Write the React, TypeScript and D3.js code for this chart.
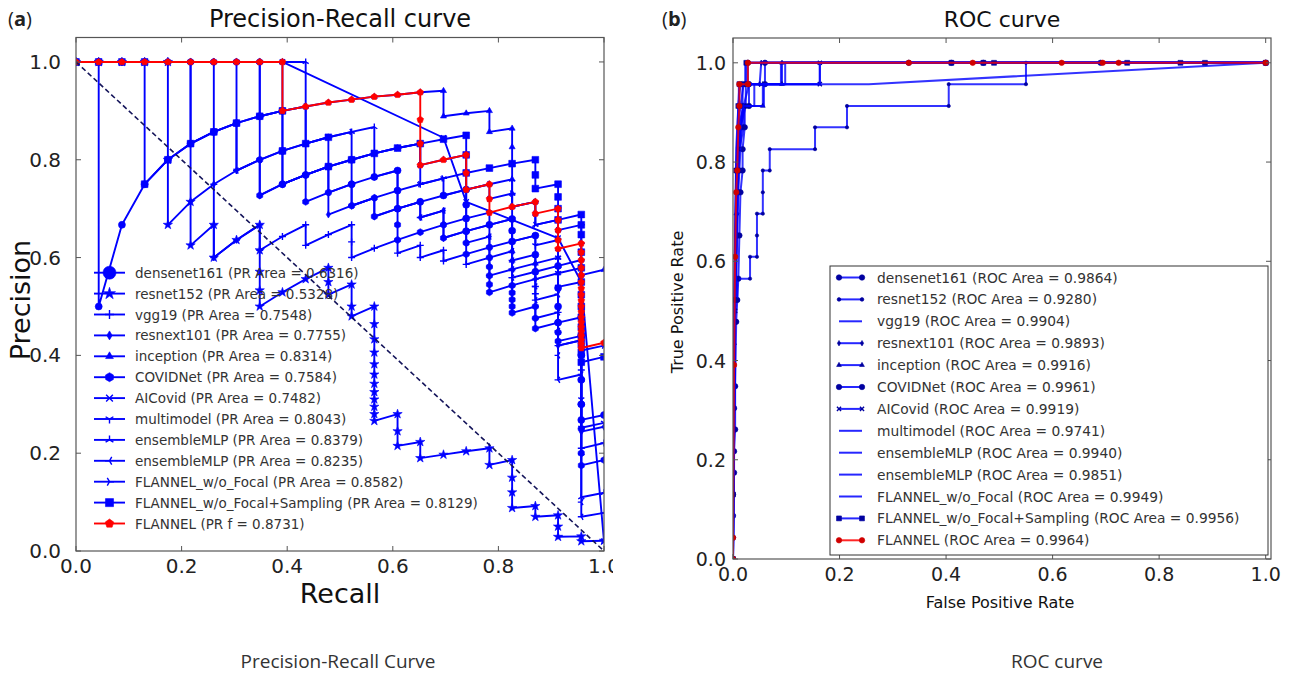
import React from 'react';
import * as d3 from 'd3';

type Pt = [number, number];

// ---- shared series names ----
const modelNames = ['densenet161', 'resnet152', 'vgg19', 'resnext101', 'inception', 'COVIDNet', 'AICovid',
  'multimodel', 'ensembleMLP', 'ensembleMLP', 'FLANNEL_w/o_Focal', 'FLANNEL_w/o_Focal+Sampling', 'FLANNEL'];
const prAreaText = ['(PR Area = 0.6316)', '(PR Area = 0.5328)', '(PR Area = 0.7548)', '(PR Area = 0.7755)',
  '(PR Area = 0.8314)', '(PR Area = 0.7584)', '(PR Area = 0.7482)', '(PR Area = 0.8043)', '(PR Area = 0.8379)',
  '(PR Area = 0.8235)', '(PR Area = 0.8582)', '(PR Area = 0.8129)', '(PR f = 0.8731)'];
const rocAreas = ['0.9864', '0.9280', '0.9904', '0.9893', '0.9916', '0.9961', '0.9919', '0.9741', '0.9940',
  '0.9851', '0.9949', '0.9956', '0.9964'];
const prMarkers = ['o', '*', '+', 'd', '^', 'h', 'x', '1', '2', '3', '4', 's', 'p'];
const rocMarkers = ['o', '.', '', 'd', '^', 'o', 'x', '', '', '', '', 's', 'o'];
const ticks = [0, 0.2, 0.4, 0.6, 0.8, 1.0];

// ---- precision-recall curves (recall, precision) ----
const prDensenet: Pt[] = [[0,1],[.043,1],[.043,.5],[.087,.667],[.13,.75],[.174,.8],[.217,.833],[.261,.857],[.304,.875],[.348,.889],[.391,.9],[.391,.818],[.391,.75],[.435,.769],[.478,.786],[.522,.8],[.522,.75],[.565,.765],[.609,.778],[.609,.737],[.609,.7],[.652,.714],[.696,.727],[.739,.739],[.739,.708],[.739,.68],[.739,.654],[.783,.667],[.826,.679],[.826,.655],[.826,.633],[.87,.645],[.87,.606],[.87,.571],[.913,.583],[.913,.538],[.913,.5],[.913,.467],[.957,.478],[.957,.44],[.957,.4],[.957,.35],[.957,.3],[.957,.268],[1,.278]];
const prResnet152: Pt[] = [[0,1],[.043,1],[.087,1],[.13,1],[.174,1],[.174,.8],[.174,.667],[.217,.714],[.217,.625],[.261,.667],[.261,.6],[.304,.636],[.348,.667],[.348,.615],[.348,.571],[.348,.533],[.348,.5],[.391,.529],[.435,.556],[.478,.579],[.478,.55],[.478,.524],[.522,.545],[.522,.5],[.522,.48],[.565,.5],[.565,.464],[.565,.433],[.565,.406],[.565,.382],[.565,.361],[.565,.342],[.565,.325],[.565,.31],[.565,.295],[.565,.28],[.565,.266],[.609,.28],[.609,.245],[.609,.215],[.652,.223],[.652,.19],[.696,.197],[.739,.204],[.783,.21],[.783,.176],[.826,.186],[.826,.15],[.826,.12],[.826,.088],[.87,.092],[.87,.07],[.913,.073],[.913,.05],[.913,.029],[.957,.03],[.957,.02],[1,.021]];
const prVgg19: Pt[] = [[0,1],[.043,1],[.087,1],[.13,1],[.174,1],[.217,1],[.261,1],[.261,.857],[.261,.75],[.261,.667],[.261,.6],[.304,.636],[.348,.667],[.348,.615],[.391,.643],[.435,.667],[.435,.625],[.478,.647],[.522,.667],[.522,.632],[.522,.6],[.565,.619],[.609,.636],[.609,.609],[.652,.625],[.652,.6],[.696,.615],[.696,.593],[.739,.607],[.739,.586],[.783,.6],[.783,.581],[.783,.563],[.826,.576],[.826,.559],[.826,.543],[.87,.556],[.87,.541],[.87,.526],[.87,.5],[.87,.476],[.913,.488],[.913,.467],[.913,.447],[.913,.42],[.957,.431],[.957,.37],[.957,.3],[.957,.25],[.957,.21],[1,.221]];
const prResnext: Pt[] = [[0,1],[.043,1],[.087,1],[.13,1],[.174,1],[.217,1],[.217,.833],[.217,.714],[.261,.75],[.304,.778],[.348,.8],[.348,.727],[.391,.75],[.435,.769],[.478,.786],[.478,.733],[.478,.688],[.522,.706],[.565,.722],[.565,.684],[.609,.7],[.652,.714],[.652,.682],[.696,.696],[.696,.667],[.696,.64],[.739,.654],[.783,.667],[.783,.643],[.783,.621],[.826,.633],[.826,.613],[.826,.594],[.87,.606],[.87,.588],[.87,.571],[.87,.556],[.913,.568],[.913,.5],[.913,.45],[.913,.42],[.957,.431],[.957,.35],[.957,.3],[.957,.244],[1,.254]];
const prInception: Pt[] = [[0,1],[.043,1],[.087,1],[.13,1],[.174,1],[.217,1],[.261,1],[.304,1],[.348,1],[.391,1],[.391,.9],[.435,.909],[.478,.917],[.522,.923],[.565,.929],[.609,.933],[.652,.938],[.696,.941],[.696,.889],[.739,.895],[.783,.9],[.783,.857],[.826,.864],[.826,.826],[.826,.792],[.826,.76],[.826,.731],[.826,.704],[.826,.679],[.826,.655],[.826,.633],[.826,.613],[.826,.594],[.826,.576],[.87,.588],[.913,.6],[.913,.583],[.913,.568],[.957,.579],[.957,.564],[1,.575]];
const prCovidNet: Pt[] = [[0,1],[.043,1],[.087,1],[.13,1],[.174,1],[.217,1],[.261,1],[.304,1],[.348,1],[.348,.889],[.348,.8],[.348,.727],[.391,.75],[.435,.769],[.435,.714],[.478,.733],[.522,.75],[.522,.706],[.565,.722],[.565,.684],[.609,.7],[.609,.667],[.609,.636],[.652,.652],[.696,.667],[.696,.64],[.739,.654],[.739,.63],[.739,.607],[.783,.621],[.783,.6],[.783,.581],[.783,.563],[.783,.545],[.783,.529],[.826,.543],[.826,.528],[.826,.514],[.826,.5],[.826,.487],[.87,.5],[.87,.476],[.87,.455],[.913,.467],[.913,.447],[.913,.429],[.957,.44],[.957,.4],[.957,.35],[.957,.3],[.957,.25],[.957,.2],[.957,.175],[1,.186]];
const prAICovid: Pt[] = [[0,1],[.391,1],[.696,.845],[.739,.714],[.913,.64],[.957,.55],[1,.02]];
const prMultimodel: Pt[] = [[0,1],[.043,1],[.087,1],[.13,1],[.174,1],[.217,1],[.261,1],[.304,1],[.304,.875],[.304,.778],[.348,.8],[.391,.818],[.435,.833],[.435,.769],[.478,.786],[.522,.8],[.565,.813],[.565,.765],[.609,.778],[.609,.737],[.652,.75],[.696,.762],[.696,.727],[.739,.739],[.739,.708],[.739,.68],[.783,.692],[.783,.667],[.826,.679],[.826,.655],[.826,.633],[.87,.645],[.87,.625],[.913,.636],[.913,.6],[.913,.568],[.913,.54],[.957,.55],[.957,.5],[.957,.44],[.957,.38],[.957,.31],[.957,.252],[1,.262]];
const prEnsemble1: Pt[] = [[0,1],[.043,1],[.087,1],[.13,1],[.174,1],[.217,1],[.261,1],[.304,1],[.348,1],[.391,1],[.435,1],[.435,.909],[.435,.833],[.478,.846],[.522,.857],[.565,.867],[.565,.813],[.609,.824],[.652,.833],[.652,.789],[.696,.8],[.739,.81],[.739,.773],[.739,.739],[.783,.75],[.826,.76],[.826,.731],[.826,.704],[.87,.714],[.87,.69],[.87,.667],[.913,.677],[.913,.656],[.913,.636],[.913,.618],[.913,.6],[.913,.583],[.957,.595],[.957,.5],[.957,.4],[.957,.3],[.957,.2],[.957,.11],[1,.119]];
const prEnsemble2: Pt[] = [[0,1],[.043,1],[.087,1],[.13,1],[.174,1],[.217,1],[.217,.833],[.261,.857],[.304,.875],[.304,.778],[.348,.8],[.391,.818],[.391,.75],[.435,.769],[.478,.786],[.478,.733],[.522,.75],[.522,.706],[.565,.722],[.609,.737],[.609,.7],[.652,.714],[.652,.682],[.696,.696],[.696,.667],[.739,.68],[.739,.654],[.739,.63],[.783,.643],[.783,.621],[.783,.6],[.826,.613],[.826,.594],[.826,.576],[.826,.559],[.87,.571],[.87,.541],[.87,.513],[.913,.525],[.913,.488],[.913,.45],[.913,.4],[.913,.35],[.957,.361],[.957,.2],[.957,.1],[.957,.07],[1,.078]];
const prNoFocal: Pt[] = [[0,1],[.043,1],[.087,1],[.13,1],[.174,1],[.217,1],[.261,1],[.304,1],[.348,1],[.348,.889],[.391,.9],[.435,.909],[.435,.833],[.478,.846],[.522,.857],[.522,.8],[.565,.813],[.609,.824],[.652,.833],[.652,.789],[.652,.75],[.696,.762],[.739,.773],[.739,.739],[.783,.75],[.783,.72],[.826,.731],[.826,.704],[.87,.714],[.87,.69],[.87,.667],[.913,.677],[.913,.656],[.957,.667],[.957,.629],[.957,.595],[.957,.564],[.957,.5],[.957,.45],[.957,.41],[1,.42]];
const prSampling: Pt[] = [[0,1],[.043,1],[.087,1],[.13,1],[.13,.75],[.174,.8],[.217,.833],[.261,.857],[.304,.875],[.348,.889],[.391,.9],[.391,.818],[.435,.833],[.478,.846],[.478,.786],[.522,.8],[.565,.813],[.609,.824],[.652,.833],[.696,.842],[.739,.85],[.739,.81],[.739,.773],[.783,.783],[.826,.792],[.87,.8],[.87,.769],[.87,.741],[.913,.75],[.913,.724],[.913,.7],[.913,.677],[.957,.688],[.957,.667],[.957,.647],[.957,.611],[.957,.579],[.957,.55],[.957,.524],[.957,.5],[.957,.478],[.957,.458],[.957,.44],[.957,.423],[.957,.407],[.957,.386],[1,.397]];
const prFlannel: Pt[] = [[0,1],[.043,1],[.087,1],[.13,1],[.174,1],[.217,1],[.261,1],[.304,1],[.348,1],[.391,1],[.391,.9],[.435,.909],[.478,.917],[.522,.923],[.565,.929],[.609,.933],[.652,.938],[.652,.882],[.652,.833],[.652,.789],[.696,.8],[.739,.81],[.739,.773],[.739,.739],[.783,.75],[.783,.72],[.783,.692],[.826,.704],[.87,.714],[.87,.69],[.913,.7],[.913,.677],[.913,.656],[.913,.636],[.913,.618],[.957,.629],[.957,.611],[.957,.595],[.957,.579],[.957,.564],[.957,.55],[.957,.537],[.957,.524],[.957,.512],[.957,.5],[.957,.489],[.957,.478],[.957,.468],[.957,.458],[.957,.449],[.957,.44],[.957,.431],[.957,.423],[.957,.415],[1,.426]];

// ---- ROC curves (false positive rate, true positive rate) ----
const rocDensenet: Pt[] = [[0,0],[0,.043],[0,.13],[.002,.174],[.002,.217],[.004,.261],[.004,.348],[.006,.478],[.008,.522],[.01,.565],[.012,.652],[.014,.739],[.018,.783],[.018,.826],[.022,.87],[.022,.913],[.03,.913],[.03,.957],[.06,.957],[.06,1],[.33,1],[.47,1],[1,1]];
const rocResnet152: Pt[] = [[0,0],[0,.043],[.002,.304],[.004,.522],[.008,.522],[.008,.565],[.032,.565],[.032,.609],[.045,.609],[.045,.652],[.045,.696],[.056,.696],[.056,.739],[.056,.783],[.069,.783],[.069,.826],[.154,.826],[.154,.87],[.214,.87],[.214,.913],[.405,.913],[.405,.957],[.55,.957],[.55,1],[1,1]];
const rocVgg19: Pt[] = [[0,0],[.002,.348],[.004,.609],[.008,.783],[.012,.87],[.02,.913],[.04,.913],[.04,.957],[.09,.957],[.09,1],[1,1]];
const rocResnext: Pt[] = [[0,0],[.002,.261],[.004,.522],[.008,.696],[.01,.783],[.014,.87],[.024,.913],[.024,.957],[.05,.957],[.053,1],[1,1]];
const rocInception: Pt[] = [[0,0],[.002,.435],[.006,.696],[.012,.826],[.02,.87],[.02,.913],[.056,.913],[.056,.957],[.092,.957],[.092,1],[1,1]];
const rocCovidNet: Pt[] = [[0,0],[0,.087],[.002,.304],[.004,.478],[.008,.652],[.01,.739],[.012,.783],[.016,.87],[.018,.913],[.018,.957],[.028,.957],[.028,1],[.41,1],[.69,1],[1,1]];
const rocAICovid: Pt[] = [[0,0],[.004,.5],[.01,.826],[.02,.913],[.03,.957],[.163,.957],[.163,1],[1,1]];
const rocMultimodel: Pt[] = [[0,0],[.002,.3],[.004,.6],[.006,.783],[.01,.87],[.014,.913],[.02,.957],[.255,.957],[1,1]];
const rocEnsemble1: Pt[] = [[0,0],[.002,.391],[.006,.739],[.01,.87],[.02,.913],[.058,.913],[.058,.957],[.098,.957],[.098,1],[1,1]];
const rocEnsemble2: Pt[] = [[0,0],[.004,.565],[.008,.783],[.011,.913],[.011,.957],[.163,.957],[.163,1],[1,1]];
const rocNoFocal: Pt[] = [[0,0],[.002,.478],[.006,.826],[.01,.913],[.014,.957],[.023,.957],[.023,1],[1,1]];
const rocSampling: Pt[] = [[0,0],[0,.13],[.002,.522],[.006,.783],[.01,.913],[.012,.957],[.025,.957],[.025,1],[.41,1],[.47,1],[.49,1],[.74,1],[.84,1],[.886,1],[1,1]];
const rocFlannel: Pt[] = [[0,0],[0,.043],[.002,.391],[.004,.609],[.006,.739],[.008,.783],[.01,.87],[.012,.913],[.012,.957],[.028,.957],[.028,1],[.33,1],[.45,1],[.617,1],[.694,1],[.724,1],[1,1]];

const prSeries = [prDensenet, prResnet152, prVgg19, prResnext, prInception, prCovidNet, prAICovid,
  prMultimodel, prEnsemble1, prEnsemble2, prNoFocal, prSampling, prFlannel];
const rocSeries = [rocDensenet, rocResnet152, rocVgg19, rocResnext, rocInception, rocCovidNet, rocAICovid,
  rocMultimodel, rocEnsemble1, rocEnsemble2, rocNoFocal, rocSampling, rocFlannel];

const BLUE = '#0000ff';
const RED = '#ff0000';
const FONT = '"DejaVu Sans", sans-serif';

// marker shape, centred on 0,0; returns [path, filled]
function marker(kind: string, size: number): [string, boolean] {
  const r = size / 2;
  const poly = (n: number, rot: number) =>
    d3.range(n).map(i => {
      const a = rot + (i * 2 * Math.PI) / n;
      return `${i ? 'L' : 'M'}${(r * Math.cos(a)).toFixed(2)},${(r * Math.sin(a)).toFixed(2)}`;
    }).join('') + 'Z';
  const tri = (angles: number[]) =>
    angles.map(a => `M0,0L${(r * Math.cos(a)).toFixed(2)},${(r * Math.sin(a)).toFixed(2)}`).join('');
  const deg = Math.PI / 180;
  switch (kind) {
    case 'o': return [d3.symbol(d3.symbolCircle, Math.PI * r * r)()!, true];
    case '.': return [d3.symbol(d3.symbolCircle, Math.PI * r * r * 0.45)()!, true];
    case 's': return [d3.symbol(d3.symbolSquare, size * size * 0.8)()!, true];
    case '*': return [d3.symbol(d3.symbolStar, size * size * 0.55)()!, true];
    case 'd': return [`M0,${-r}L${r * 0.6},0L0,${r}L${-r * 0.6},0Z`, true];
    case '^': return [poly(3, -90 * deg), true];
    case 'h': return [poly(6, -90 * deg), true];
    case 'p': return [poly(5, -90 * deg), true];
    case '+': return [`M${-r},0H${r}M0,${-r}V${r}`, false];
    case 'x': return [`M${-r * 0.75},${-r * 0.75}L${r * 0.75},${r * 0.75}M${r * 0.75},${-r * 0.75}L${-r * 0.75},${r * 0.75}`, false];
    case '1': return [tri([90 * deg, 210 * deg, 330 * deg]), false];
    case '2': return [tri([-90 * deg, 30 * deg, 150 * deg]), false];
    case '3': return [tri([180 * deg, 60 * deg, -60 * deg]), false];
    case '4': return [tri([0, 120 * deg, 240 * deg]), false];
    default: return ['', false];
  }
}

function Marker({ x, y, kind, size, color }: { x: number; y: number; kind: string; size: number; color: string }) {
  if (!kind) return null;
  const [d, filled] = marker(kind, size);
  return (
    <path d={d} transform={`translate(${x},${y})`} fill={filled ? color : 'none'}
      stroke={color} strokeWidth={filled ? 0.6 : 1.4} />
  );
}

// frame + inward ticks on all four sides
function Frame({ x, y, tickSize, fontSize, labelGap, yGap }: any) {
  const [x0, x1] = x.range();
  const [y0, y1] = y.range();
  return (
    <g>
      <rect x={x0} y={y1} width={x1 - x0} height={y0 - y1} fill="none" stroke="#555" strokeWidth={1.2} />
      {ticks.map(t => (
        <g key={'t' + t}>
          <line x1={x(t)} x2={x(t)} y1={y0} y2={y0 - tickSize} stroke="#555" />
          <line x1={x(t)} x2={x(t)} y1={y1} y2={y1 + tickSize} stroke="#555" />
          <line x1={x0} x2={x0 + tickSize} y1={y(t)} y2={y(t)} stroke="#555" />
          <line x1={x1} x2={x1 - tickSize} y1={y(t)} y2={y(t)} stroke="#555" />
          <text x={x(t)} y={y0 + labelGap} textAnchor="middle" dominantBaseline="hanging"
            fontSize={fontSize} fill="#222">{t.toFixed(1)}</text>
          <text x={x0 - yGap} y={y(t)} textAnchor="end" dominantBaseline="central"
            fontSize={fontSize} fill="#222">{t.toFixed(1)}</text>
        </g>
      ))}
    </g>
  );
}

export default function App() {
  const xPR = d3.scaleLinear().domain([0, 1]).range([76, 604]);
  const yPR = d3.scaleLinear().domain([0, 1.05]).range([551, 37.5]);
  const xROC = d3.scaleLinear().domain([0, 1.01]).range([733, 1271]);
  const yROC = d3.scaleLinear().domain([0, 1.05]).range([559, 38]);
  const prLine = d3.line<Pt>().x(d => xPR(d[0])).y(d => yPR(d[1]));
  const rocLine = d3.line<Pt>().x(d => xROC(d[0])).y(d => yROC(d[1]));
  const last = modelNames.length - 1;

  return (
    <div style={{ position: 'absolute', left: 0, top: 0 }}>
      <svg width={1296} height={674} style={{ display: 'block', background: '#fff' }} fontFamily={FONT}>
        <defs>
          <clipPath id="leftPanel"><rect x={0} y={0} width={613} height={674} /></clipPath>
          <clipPath id="prArea"><rect x={76} y={37.5} width={528} height={513.5} /></clipPath>
          <clipPath id="rocArea"><rect x={733} y={38} width={538} height={521} /></clipPath>
        </defs>

        {/* ---------- (a) Precision-Recall ---------- */}
        <text x={8} y={26} fontSize={20} fill="#222" fontFamily='"Open Sans", sans-serif'>
          (<tspan fontWeight="bold">a</tspan>)
        </text>
        <g clipPath="url(#leftPanel)">
          <text x={340} y={27} textAnchor="middle" fontSize={24} fill="#111">Precision-Recall curve</text>
          <g clipPath="url(#prArea)">
            {prSeries.map((s, i) => {
              const c = i === last ? RED : BLUE;
              return (
                <g key={'pr' + i}>
                  <path d={prLine(s)!} fill="none" stroke={c} strokeWidth={1.9} strokeLinejoin="round" />
                  {s.map((p, j) => (
                    <Marker key={j} x={xPR(p[0])} y={yPR(p[1])} kind={prMarkers[i]}
                      size={prMarkers[i] === 's' ? 7.5 : 7} color={c} />
                  ))}
                </g>
              );
            })}
            <line x1={xPR(0)} y1={yPR(1)} x2={xPR(1)} y2={yPR(0)} stroke="#14145a"
              strokeWidth={1.6} strokeDasharray="5,3" />
          </g>
          <Frame x={xPR} y={yPR} tickSize={5} fontSize={20} labelGap={7} yGap={15} />
          <text x={340} y={603} textAnchor="middle" fontSize={27} fill="#111">Recall</text>
          <text transform="translate(30,300) rotate(-90)" textAnchor="middle" fontSize={27} fill="#111">Precision</text>
          {modelNames.map((n, i) => {
            const y = 272.7 + i * 20.9;
            const c = i === last ? RED : BLUE;
            return (
              <g key={'lp' + i}>
                <line x1={94} x2={125} y1={y} y2={y} stroke={c} strokeWidth={1.9} />
                <Marker x={109.5} y={y} kind={prMarkers[i]} size={i === 0 ? 13 : 9} color={c} />
                <text x={135} y={y} dominantBaseline="central" fontSize={13.5} fill="#333">{n} {prAreaText[i]}</text>
              </g>
            );
          })}
        </g>

        {/* ---------- (b) ROC ---------- */}
        <text x={662} y={26} fontSize={20} fill="#222" fontFamily='"Open Sans", sans-serif'>
          (<tspan fontWeight="bold">b</tspan>)
        </text>
        <text x={1002} y={27} textAnchor="middle" fontSize={22} fill="#111">ROC curve</text>
        <g clipPath="url(#rocArea)">
          {rocSeries.map((s, i) => {
            const c = i === last ? RED : BLUE;
            const mc = i === last ? '#d00000' : '#0000a0';
            return (
              <g key={'roc' + i}>
                <path d={rocLine(s)!} fill="none" stroke={c} strokeOpacity={0.8} strokeWidth={2} />
                {s.map((p, j) => (
                  <Marker key={j} x={xROC(p[0])} y={yROC(p[1])} kind={rocMarkers[i]}
                    size={rocMarkers[i] === '.' ? 5 : 5.5} color={mc} />
                ))}
              </g>
            );
          })}
        </g>
        <Frame x={xROC} y={yROC} tickSize={5} fontSize={19} labelGap={8} yGap={7} />
        <text x={1000} y={608} textAnchor="middle" fontSize={16} fill="#111">False Positive Rate</text>
        <text transform="translate(683,302) rotate(-90)" textAnchor="middle" fontSize={16} fill="#111">True Positive Rate</text>
        <rect x={830} y={266} width={438} height={289} fill="#fff" stroke="#333" strokeWidth={1} />
        {modelNames.map((n, i) => {
          const y = 277.5 + i * 21.9;
          const c = i === last ? RED : BLUE;
          const mc = i === last ? '#d00000' : '#0000a0';
          return (
            <g key={'lr' + i}>
              <line x1={839} x2={862} y1={y} y2={y} stroke={c} strokeOpacity={0.85} strokeWidth={2} />
              <Marker x={839} y={y} kind={rocMarkers[i]} size={5.5} color={mc} />
              <Marker x={862} y={y} kind={rocMarkers[i]} size={5.5} color={mc} />
              <text x={877} y={y} dominantBaseline="central" fontSize={13.8} fill="#333">{n} (ROC Area = {rocAreas[i]})</text>
            </g>
          );
        })}

        {/* captions under the panels */}
        <text x={338} y={668} textAnchor="middle" fontSize={19} fill="#333" fontFamily='"Open Sans", sans-serif'>Precision-Recall Curve</text>
        <text x={1057} y={668} textAnchor="middle" fontSize={19} fill="#333" fontFamily='"Open Sans", sans-serif'>ROC curve</text>
      </svg>
    </div>
  );
}
